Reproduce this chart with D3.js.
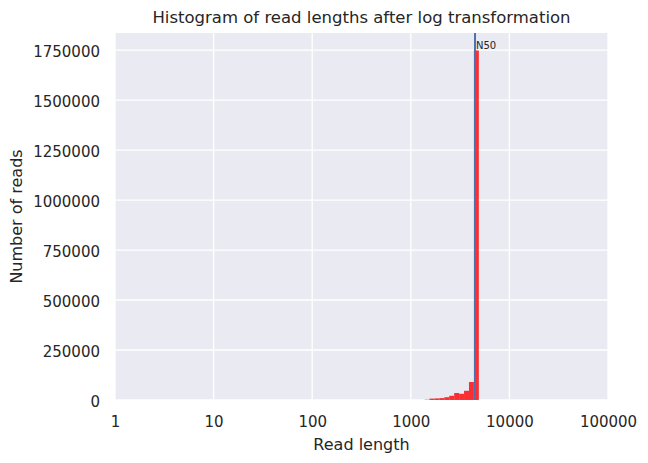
<!DOCTYPE html>
<html>
<head>
<meta charset="utf-8">
<title>Histogram of read lengths</title>
<script src="https://d3js.org/d3.v7.min.js"></script>
<style>
  body { margin: 0; background: #fff; }
  text { font-family: "DejaVu Sans", sans-serif; fill: #262626; }
</style>
</head>
<body>
<svg width="648" height="463"></svg>
<script>
// log10(read length) bin edges and counts per bin
var binEdges = [3.14, 3.19, 3.24, 3.29, 3.34, 3.39, 3.44, 3.49, 3.54, 3.59, 3.64, 3.69];
var binCounts = [1500, 7000, 8000, 9500, 14000, 21000, 35000, 31000, 46000, 90000, 1748000];
var n50 = 4480;
var xTicks = [1, 10, 100, 1000, 10000, 100000];
var yTicks = [0, 250000, 500000, 750000, 1000000, 1250000, 1500000, 1750000];

var svg = d3.select("svg"),
    margin = {top: 33, right: 40, bottom: 63, left: 115},
    width = +svg.attr("width") - margin.left - margin.right,
    height = +svg.attr("height") - margin.top - margin.bottom,
    g = svg.append("g").attr("transform", "translate(" + margin.left + "," + margin.top + ")");

var x = d3.scaleLog().domain([1, 100000]).range([0, width]);
var y = d3.scaleLinear().domain([0, 1748000 * 1.05]).range([height, 0]);

g.append("rect")
  .attr("width", width).attr("height", height)
  .attr("fill", "#eaeaf2");

// grid
g.selectAll(".gx").data(xTicks).enter().append("line")
  .attr("x1", function(d) { return x(d); }).attr("x2", function(d) { return x(d); })
  .attr("y1", 0).attr("y2", height)
  .attr("stroke", "#fff").attr("stroke-width", 1.3);
g.selectAll(".gy").data(yTicks).enter().append("line")
  .attr("x1", 0).attr("x2", width)
  .attr("y1", function(d) { return y(d); }).attr("y2", function(d) { return y(d); })
  .attr("stroke", "#fff").attr("stroke-width", 1.3);

// bars
var bins = binCounts.map(function(c, i) {
  return {x0: Math.pow(10, binEdges[i]), x1: Math.pow(10, binEdges[i + 1]), n: c};
});
g.selectAll(".bar").data(bins).enter().append("rect")
  .attr("x", function(d) { return x(d.x0); })
  .attr("width", function(d) { return x(d.x1) - x(d.x0); })
  .attr("y", function(d) { return y(d.n); })
  .attr("height", function(d) { return height - y(d.n); })
  .attr("fill", "red")
  .attr("fill-opacity", 0.8);

// N50 line
g.append("line")
  .attr("x1", x(n50)).attr("x2", x(n50))
  .attr("y1", 0).attr("y2", height)
  .attr("stroke", "#4c72b0").attr("stroke-width", 2);
g.append("text")
  .attr("x", x(n50) + 1).attr("y", 16)
  .attr("font-size", "10px")
  .text("N50");

// axes
var xAxis = d3.axisBottom(x).tickValues(xTicks).tickFormat(d3.format("d")).tickSize(0);
var yAxis = d3.axisLeft(y).tickValues(yTicks).tickFormat(d3.format("d")).tickSize(0).tickPadding(15);

var gx = g.append("g").attr("transform", "translate(0," + height + ")").call(xAxis);
var gy = g.append("g").call(yAxis);
[gx, gy].forEach(function(a) {
  a.select(".domain").remove();
  a.selectAll("text").attr("font-size", "15px").attr("font-family", "DejaVu Sans").attr("fill", "#262626");
});
gx.selectAll("text").attr("y", 27).attr("dy", null);
gy.selectAll("text").attr("dy", "0.45em");

svg.append("text")
  .attr("x", margin.left + width / 2).attr("y", 23)
  .attr("text-anchor", "middle")
  .attr("font-size", "16.5px")
  .text("Histogram of read lengths after log transformation");

svg.append("text")
  .attr("x", margin.left + width / 2).attr("y", 450)
  .attr("text-anchor", "middle")
  .attr("font-size", "16px")
  .text("Read length");

svg.append("text")
  .attr("transform", "translate(22," + (margin.top + height / 2) + ") rotate(-90)")
  .attr("text-anchor", "middle")
  .attr("font-size", "16px")
  .text("Number of reads");
</script>
</body>
</html>
